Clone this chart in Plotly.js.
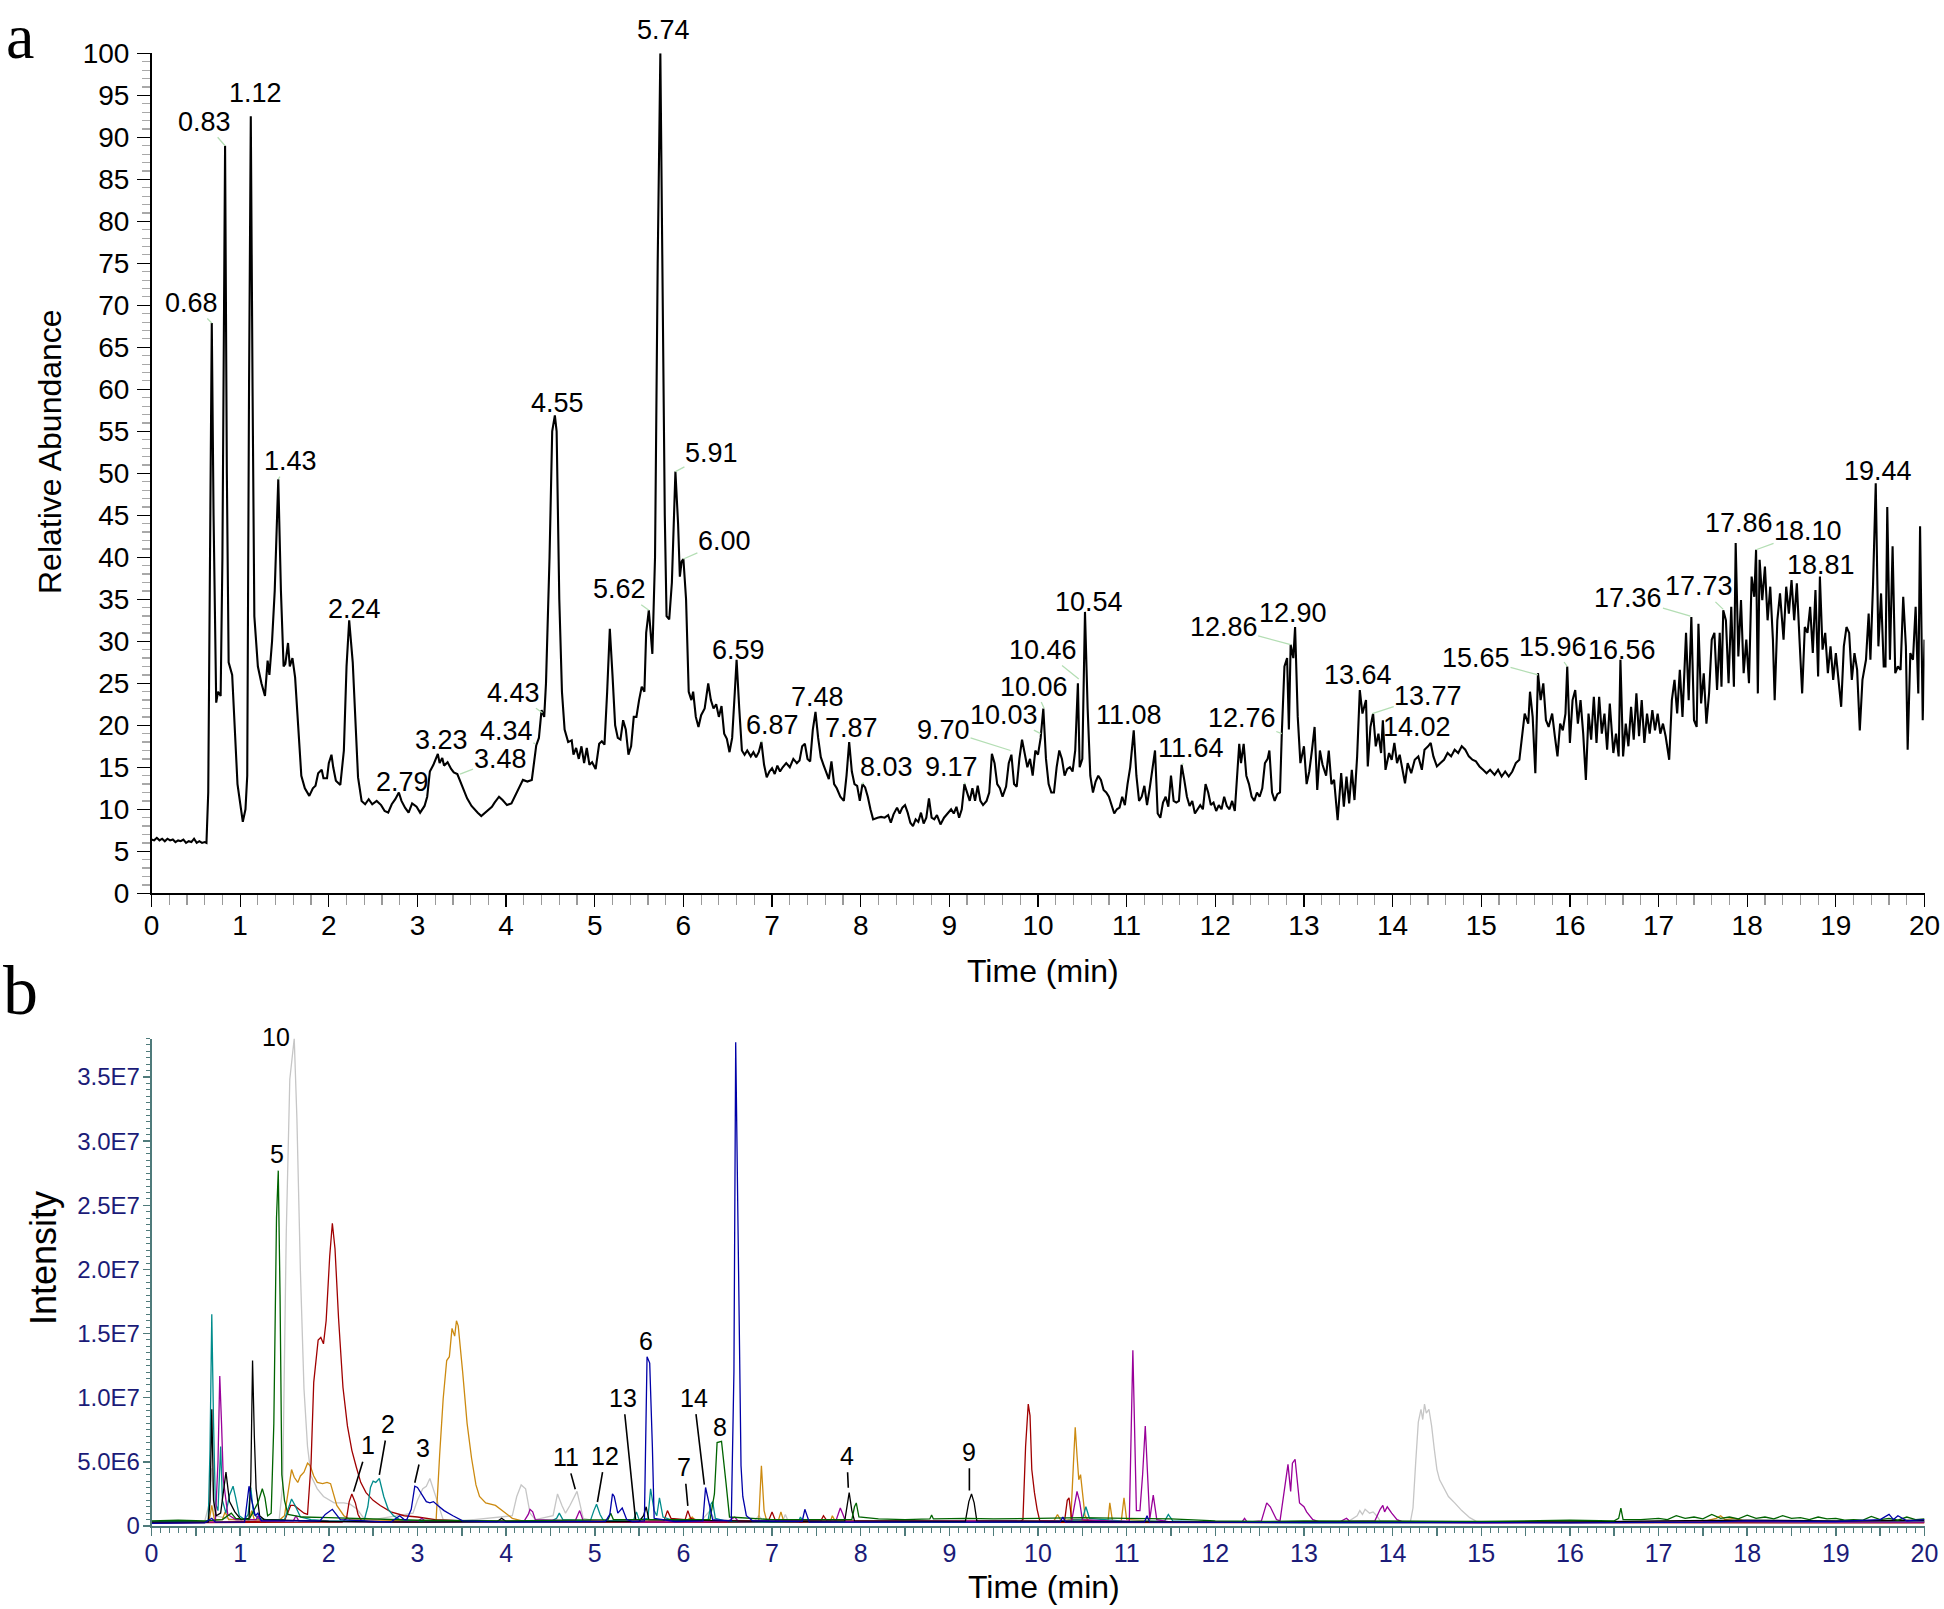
<!DOCTYPE html>
<html>
<head>
<meta charset="utf-8">
<script src="https://cdn.plot.ly/plotly-3.0.1.min.js"></script>
<style>html,body{margin:0;padding:0;background:#fff;}#chart{width:1944px;height:1609px;}</style>
</head>
<body>
<div id="chart"></div>
<script>
// ---------------- DATA ----------------
// Panel a: total ion chromatogram (time in min, relative abundance %)
const ticPoints = [
[0.00,6.4],[0.03,6.3],[0.06,6.6],[0.09,6.3],[0.12,6.5],[0.15,6.2],[0.18,6.5],[0.21,6.3],[0.24,6.4],[0.27,6.1],[0.30,6.3],[0.33,6.2],[0.36,6.4],[0.39,6.0],[0.42,6.2],[0.45,6.1],[0.48,6.5],[0.51,6.0],[0.54,6.2],[0.57,6.0],[0.60,6.1],[0.62,6.0],
[0.64,12],[0.66,40],[0.68,67.9],[0.70,45],[0.72,30],[0.73,22.7],[0.75,24],[0.78,23.5],[0.80,40],[0.82,85],[0.83,89],[0.85,50],[0.87,27.5],[0.91,26],[0.94,19],[0.97,13],[1.01,10],[1.03,8.5],[1.06,10],[1.08,14],[1.10,60],[1.12,92.5],[1.14,60],[1.16,33],[1.20,27],[1.24,25],[1.28,23.5],[1.31,27.7],[1.33,26],[1.36,30],[1.39,36],[1.43,49.3],[1.46,36],[1.49,27],[1.51,27.3],[1.54,29.8],[1.56,27],[1.59,28],[1.62,25.7],[1.65,20],[1.69,14],[1.73,12.5],[1.78,11.6],[1.82,12.5],[1.85,12.8],[1.88,14.3],[1.92,14.7],[1.94,13.7],[1.98,13.7],[2.00,15.5],[2.03,16.5],[2.05,15],[2.08,13.4],[2.13,12.9],[2.17,17],[2.20,27],[2.23,32.5],[2.27,27.5],[2.30,20],[2.33,13.8],[2.37,11],[2.41,10.6],[2.45,11.2],[2.49,10.6],[2.54,11],[2.59,10.5],[2.63,9.8],[2.67,9.6],[2.71,10.6],[2.75,11.2],[2.79,12],[2.82,11],[2.86,10.2],[2.90,9.6],[2.94,10.7],[2.99,10.3],[3.03,9.6],[3.08,10.4],[3.11,11.5],[3.14,14.5],[3.18,15.3],[3.23,16.6],[3.25,15.5],[3.28,16.1],[3.30,15.2],[3.34,15.6],[3.38,14.8],[3.41,14.4],[3.45,14.2],[3.50,12.8],[3.56,11.3],[3.61,10.4],[3.65,9.9],[3.68,9.6],[3.72,9.2],[3.76,9.6],[3.80,10],[3.84,10.3],[3.87,10.8],[3.92,11.5],[3.96,11.1],[4.01,10.5],[4.06,10.7],[4.10,11.6],[4.15,12.7],[4.19,13.5],[4.24,13.3],[4.29,13.5],[4.34,17.6],[4.37,18.5],[4.40,21.8],[4.43,21],[4.45,25],[4.49,40],[4.52,55],[4.55,56.9],[4.57,55],[4.60,35],[4.63,24],[4.66,19.5],[4.70,18],[4.74,18.2],[4.76,16.5],[4.79,17.3],[4.82,16],[4.85,17.5],[4.88,15.5],[4.91,17.3],[4.94,15.3],[4.97,15.6],[5.01,14.8],[5.05,17.8],[5.08,18.1],[5.11,17.7],[5.14,24],[5.17,31.5],[5.20,26],[5.23,20],[5.26,18.5],[5.29,18.3],[5.32,20.6],[5.35,19.5],[5.38,16.5],[5.41,17.5],[5.44,21],[5.47,21],[5.50,23],[5.53,24.6],[5.56,24],[5.58,31],[5.61,33.7],[5.65,28.5],[5.68,40],[5.71,75],[5.74,100],[5.76,75],[5.79,45],[5.81,33],[5.84,32.6],[5.87,37],[5.91,50.2],[5.94,44],[5.96,37.7],[5.98,39.5],[6.00,39.8],[6.03,35],[6.06,24],[6.09,23],[6.11,24],[6.14,21],[6.17,19.8],[6.20,21.2],[6.24,22],[6.28,25],[6.31,23],[6.34,22],[6.37,22.5],[6.40,21],[6.43,22.3],[6.46,19],[6.49,18.4],[6.52,16.8],[6.55,18.5],[6.58,24],[6.60,27.8],[6.63,22],[6.66,17],[6.69,16.5],[6.72,17],[6.76,16.3],[6.79,16.8],[6.82,16.2],[6.85,16.8],[6.88,18],[6.91,15.3],[6.94,13.8],[6.97,14.5],[7.00,14.9],[7.03,14.2],[7.06,15.2],[7.09,14.5],[7.12,15],[7.16,15.5],[7.20,15],[7.24,16],[7.28,15.5],[7.31,15.8],[7.34,17.5],[7.37,17.8],[7.40,16],[7.43,15.7],[7.46,19.5],[7.49,21.6],[7.52,18.5],[7.55,16.2],[7.58,15.3],[7.61,14.5],[7.64,13.6],[7.67,15.7],[7.70,13],[7.73,12.5],[7.77,11.5],[7.81,11],[7.84,14],[7.87,18],[7.90,14.5],[7.93,13],[7.96,12.8],[7.99,11],[8.02,13],[8.05,12.6],[8.08,11.5],[8.11,10],[8.14,8.8],[8.19,9],[8.23,9.1],[8.27,9],[8.31,9.3],[8.34,8.4],[8.37,9.4],[8.41,10.2],[8.44,9.5],[8.47,10.2],[8.50,10.5],[8.53,9.6],[8.56,8.4],[8.59,8],[8.62,8.8],[8.65,8.5],[8.68,9.6],[8.71,8.3],[8.74,9],[8.77,11.3],[8.80,9],[8.83,8.8],[8.86,9.3],[8.90,8.2],[8.94,9],[8.98,9.5],[9.02,10],[9.05,9.5],[9.08,10.3],[9.11,9],[9.14,10],[9.17,13],[9.20,12],[9.23,11],[9.26,12.5],[9.29,11],[9.32,12.8],[9.35,11],[9.38,10.5],[9.42,11],[9.45,12],[9.48,16.6],[9.51,15.5],[9.54,13],[9.57,12.5],[9.60,11.5],[9.64,12.7],[9.67,15.5],[9.70,16.5],[9.73,13],[9.76,12.7],[9.79,16],[9.82,18.3],[9.85,16.5],[9.88,15],[9.91,16],[9.94,14],[9.97,17],[10.00,16.5],[10.03,18.5],[10.06,22],[10.09,16],[10.12,13],[10.15,12],[10.18,12],[10.21,15],[10.24,17],[10.27,16],[10.30,14],[10.33,14.8],[10.36,15],[10.39,14.5],[10.42,17],[10.45,25],[10.47,15],[10.50,16],[10.53,33.5],[10.56,22],[10.59,14],[10.62,12],[10.65,13.3],[10.68,14],[10.71,13.5],[10.74,12.3],[10.77,12],[10.80,11.5],[10.83,10.5],[10.86,9.5],[10.89,10],[10.92,10.2],[10.95,11.5],[10.98,10.5],[11.01,13],[11.04,15],[11.08,19.4],[11.11,14],[11.14,11],[11.17,11.5],[11.20,12.8],[11.23,10.5],[11.26,12.5],[11.29,15],[11.32,17],[11.35,9.5],[11.38,9],[11.41,10.8],[11.44,11.5],[11.47,10.3],[11.50,14],[11.53,11],[11.56,10.8],[11.59,11],[11.62,15.3],[11.65,13.5],[11.68,11.5],[11.71,10.4],[11.74,11],[11.77,9.5],[11.80,10],[11.83,10.5],[11.86,10],[11.89,13],[11.92,12],[11.95,10.5],[11.98,10.8],[12.01,9.8],[12.04,10.5],[12.07,10],[12.10,11.5],[12.13,10.4],[12.16,10],[12.19,11],[12.22,9.8],[12.24,13],[12.27,17.8],[12.29,15.5],[12.32,17.8],[12.35,14],[12.38,13],[12.41,11.5],[12.44,11],[12.47,12],[12.50,11.5],[12.53,12.5],[12.56,15.5],[12.59,16],[12.61,17],[12.64,12],[12.67,11],[12.70,11.8],[12.73,12],[12.75,19],[12.78,27],[12.81,28],[12.83,19.5],[12.85,29.6],[12.88,28],[12.90,31.7],[12.93,21],[12.96,15.5],[13.00,17.5],[13.03,13],[13.06,14.5],[13.09,17],[13.12,19.8],[13.15,12.3],[13.18,17],[13.21,15.3],[13.25,14],[13.28,17],[13.31,13],[13.34,13.5],[13.38,8.7],[13.42,14.3],[13.45,10.3],[13.48,13.9],[13.51,10.7],[13.54,14.7],[13.57,11.1],[13.60,16.3],[13.63,24.2],[13.66,21.4],[13.70,23],[13.72,15.1],[13.75,19.8],[13.78,21.4],[13.81,17.5],[13.84,19],[13.87,16.7],[13.89,20.6],[13.92,14.7],[13.96,16.7],[13.99,15.9],[14.02,17.9],[14.05,15.5],[14.08,16.5],[14.11,14.7],[14.14,13.1],[14.17,15.5],[14.21,14.3],[14.25,15.9],[14.29,16.3],[14.33,14.7],[14.36,17.1],[14.40,17.5],[14.43,17.9],[14.46,16.3],[14.50,15.1],[14.54,15.5],[14.58,15.9],[14.62,16.7],[14.66,16.3],[14.70,17.1],[14.74,16.7],[14.78,17.5],[14.82,17.1],[14.86,16.3],[14.90,15.9],[14.94,15.7],[14.98,15.1],[15.02,14.7],[15.06,14.3],[15.10,14.7],[15.15,14.1],[15.19,14.7],[15.23,13.9],[15.27,14.5],[15.31,13.9],[15.35,14.5],[15.39,15.5],[15.43,15.9],[15.46,18.7],[15.49,21.4],[15.53,20.2],[15.55,24],[15.58,21],[15.61,14.3],[15.64,26.2],[15.67,23],[15.70,25],[15.73,20.6],[15.76,19.8],[15.80,21.4],[15.83,18.7],[15.86,16.3],[15.89,20.2],[15.92,19.4],[15.95,21.4],[15.97,27],[16.00,17.9],[16.03,23],[16.06,24.2],[16.09,20.2],[16.12,23],[16.15,19],[16.18,13.5],[16.21,21.4],[16.24,18.3],[16.27,23.4],[16.30,17.9],[16.33,23.4],[16.36,19],[16.39,21.4],[16.42,17.1],[16.45,22.6],[16.49,16.7],[16.52,19],[16.55,16.3],[16.57,27.8],[16.60,16.3],[16.63,20.2],[16.66,17.5],[16.69,22.2],[16.72,18.3],[16.75,23.8],[16.78,18.7],[16.81,23],[16.84,17.9],[16.87,21.4],[16.90,19],[16.93,21.8],[16.96,19.4],[16.99,21.4],[17.02,19],[17.05,20.2],[17.08,18.7],[17.12,15.9],[17.15,23],[17.18,25.4],[17.21,21.4],[17.24,26.6],[17.27,21],[17.31,31],[17.34,23],[17.37,32.9],[17.40,20.6],[17.43,19.8],[17.45,32.1],[17.48,22.6],[17.51,26.2],[17.54,20.2],[17.57,23.8],[17.60,30.2],[17.63,31],[17.66,24.2],[17.69,31],[17.71,24.6],[17.73,33.7],[17.76,32.5],[17.79,25],[17.82,34.1],[17.85,24.6],[17.87,41.7],[17.90,28.2],[17.93,34.9],[17.96,26.2],[17.99,30.2],[18.02,25],[18.05,37.7],[18.08,35.3],[18.10,40.9],[18.12,23.8],[18.14,39.7],[18.17,34.9],[18.20,38.9],[18.23,32.5],[18.26,36.5],[18.29,30.2],[18.31,23],[18.34,32.5],[18.37,35.7],[18.41,30.2],[18.44,36.5],[18.47,33.3],[18.50,37.3],[18.53,32.5],[18.56,36.9],[18.59,30.2],[18.62,23.8],[18.65,31.7],[18.68,31],[18.71,34.1],[18.74,28.6],[18.77,36.1],[18.80,25.8],[18.82,37.7],[18.85,29],[18.88,31],[18.91,26.2],[18.94,29.4],[18.97,25.4],[19.00,28.6],[19.03,25.4],[19.06,22.2],[19.09,29.4],[19.12,31.7],[19.15,31],[19.18,25.4],[19.21,28.6],[19.24,26.6],[19.27,19.4],[19.30,25.4],[19.34,27.8],[19.37,33.3],[19.39,27.8],[19.42,36.9],[19.45,48.8],[19.48,29.4],[19.51,35.7],[19.54,27],[19.56,27],[19.58,46],[19.61,27.8],[19.64,41.3],[19.67,26.2],[19.70,27],[19.73,26.6],[19.76,35.3],[19.79,29.4],[19.81,17.1],[19.84,28.6],[19.87,27.8],[19.90,34.1],[19.93,23.8],[19.95,43.7],[19.98,20.6],[20.00,30.2]
];

// Panel a peak labels (retention time shown, peak time, abundance at label point)
const peakLabels = ['0.68','0.83','1.12','1.43','2.24','2.79','3.23','3.48','4.34','4.43','4.55','5.62','5.74','5.91','6.00','6.59','6.87','7.48','7.87','8.03','9.17','9.70','10.03','10.06','10.46','10.54','11.08','11.64','12.76','12.86','12.90','13.64','13.77','14.02','15.65','15.96','16.56','17.36','17.73','17.86','18.10','18.81','19.44'];
const peakTimes  = [0.68,0.83,1.12,1.43,2.23,2.79,3.23,3.48,4.33,4.41,4.55,5.61,5.74,5.91,6.00,6.60,6.88,7.49,7.87,8.01,9.18,9.69,10.03,10.07,10.46,10.53,11.08,11.63,12.75,12.85,12.90,13.63,13.77,14.02,15.64,15.97,16.57,17.36,17.73,17.87,18.10,18.82,19.45];
const peakAbund  = [67.9,89,92.5,49.3,32.5,12,16.6,14.2,17.8,21.5,56.9,33.7,100,50.2,39.8,27.8,18,21.6,18,13,13,17,19,22,25.5,33.5,19.4,15.3,19,29.6,31.7,24.2,21.4,18,26,27,27.8,33,33.8,41.7,40.9,37.7,48.8];

// Panel b: extracted ion chromatograms (time in min, intensity in units of 1E6)
const tealPts = [[0,0.32],[0.3,0.36],[0.6,0.3],[0.64,0.35],[0.66,6.0],[0.68,16.5],[0.70,8.0],[0.72,1.8],[0.75,1.2],[0.78,6.2],[0.80,2.0],[0.84,1.0],[0.88,2.4],[0.92,3.1],[0.95,2.2],[0.99,0.8],[1.05,0.5],[1.09,0.9],[1.12,3.0],[1.15,1.0],[1.2,0.6],[1.3,0.5],[1.5,0.5],[1.55,1.6],[1.58,2.1],[1.62,1.6],[1.68,0.7],[1.8,0.5],[2.0,0.4],[2.2,0.4],[2.4,0.45],[2.44,1.5],[2.47,3.0],[2.5,3.5],[2.53,3.4],[2.57,3.7],[2.62,2.3],[2.67,1.3],[2.73,0.8],[2.8,0.5],[3.0,0.35],[3.5,0.3],[4.0,0.35],[4.5,0.35],[4.57,0.6],[4.6,1.0],[4.64,0.5],[4.95,0.4],[4.99,1.2],[5.02,1.7],[5.06,0.9],[5.1,0.4],[5.44,0.5],[5.47,1.1],[5.5,0.5],[5.6,0.6],[5.63,2.9],[5.67,1.2],[5.7,0.8],[5.73,2.2],[5.77,0.7],[5.9,0.4],[6.28,0.5],[6.31,1.7],[6.33,1.9],[6.36,0.6],[6.5,0.35],[7.0,0.3],[7.3,0.35],[7.32,0.7],[7.35,0.35],[8.0,0.3],[9.0,0.3],[10.0,0.3],[10.5,0.5],[10.54,1.5],[10.58,0.6],[11.0,0.35],[11.43,0.4],[11.47,0.9],[11.52,0.4],[12.0,0.3],[13.0,0.25],[14.0,0.25],[15.0,0.25],[16.0,0.25],[17.0,0.3],[18.0,0.35],[19.0,0.3],[20.0,0.35]];
const purplePts = [[0,0.25],[0.5,0.28],[0.72,0.3],[0.75,5.0],[0.77,11.7],[0.79,8.0],[0.81,3.6],[0.86,0.9],[0.95,0.5],[1.18,0.5],[1.2,0.8],[1.23,0.4],[1.6,0.4],[1.63,0.8],[1.66,0.4],[2.5,0.3],[3.0,0.35],[3.05,0.6],[3.1,0.3],[4.2,0.35],[4.25,0.9],[4.27,1.3],[4.3,1.1],[4.33,0.5],[4.78,0.4],[4.83,1.2],[4.87,0.4],[5.5,0.3],[6.5,0.35],[6.58,0.7],[6.62,0.35],[7.72,0.4],[7.77,1.4],[7.8,0.9],[7.83,0.35],[10.38,0.4],[10.42,1.8],[10.44,2.7],[10.47,1.9],[10.5,0.5],[10.9,0.35],[11.03,0.4],[11.07,13.7],[11.11,1.2],[11.15,1.2],[11.18,4.0],[11.21,7.8],[11.24,3.5],[11.26,0.5],[11.3,2.4],[11.34,0.5],[11.5,0.3],[12.3,0.3],[12.33,0.6],[12.36,0.3],[12.52,0.4],[12.58,1.8],[12.62,1.5],[12.69,0.5],[12.73,0.4],[12.79,3.6],[12.82,4.8],[12.85,2.7],[12.87,4.9],[12.9,5.2],[12.92,3.9],[12.95,1.8],[13.0,1.5],[13.03,1.1],[13.1,0.5],[13.18,0.3],[13.4,0.3],[13.48,0.6],[13.52,0.35],[13.8,0.4],[13.86,1.3],[13.89,1.6],[13.91,1.1],[13.94,1.5],[13.99,1.0],[14.05,0.5],[14.12,0.3],[15.0,0.25],[17.0,0.3],[18.0,0.35],[19.0,0.3],[20.0,0.3]];
const blackPts = [[0,0.3],[0.5,0.32],[0.64,0.3],[0.66,1.9],[0.68,9.1],[0.70,2.0],[0.73,0.8],[0.78,1.0],[0.81,2.8],[0.84,4.2],[0.88,1.9],[0.94,1.1],[1.01,0.5],[1.1,0.6],[1.12,3.5],[1.14,12.9],[1.16,7.0],[1.18,2.9],[1.22,0.8],[1.27,0.5],[2.0,0.35],[3.0,0.3],[3.9,0.35],[3.95,0.6],[4.0,0.35],[5.5,0.35],[5.55,0.8],[5.58,1.5],[5.61,0.5],[7.0,0.35],[7.82,0.4],[7.85,1.8],[7.87,2.6],[7.9,1.2],[7.93,0.4],[9.18,0.35],[9.22,1.9],[9.25,2.5],[9.28,1.8],[9.31,0.4],[12.0,0.3],[14.0,0.35],[16.0,0.3],[17.0,0.4],[18.0,0.45],[19.0,0.4],[20.0,0.45]];
const greenPts = [[0,0.4],[0.3,0.45],[0.6,0.4],[0.8,0.5],[0.9,1.0],[0.95,0.6],[1.1,0.5],[1.2,1.8],[1.25,2.9],[1.28,2.2],[1.31,0.8],[1.35,1.0],[1.38,8.0],[1.41,24.0],[1.43,27.7],[1.45,18.0],[1.47,4.0],[1.5,2.0],[1.54,0.9],[1.7,0.7],[2.0,0.65],[2.3,0.6],[2.6,0.5],[3.0,0.45],[4.0,0.4],[5.0,0.45],[5.15,0.5],[5.18,1.0],[5.21,0.5],[6.3,0.5],[6.35,2.5],[6.38,6.5],[6.43,6.6],[6.48,3.4],[6.52,0.7],[7.0,0.5],[7.9,0.5],[7.93,1.5],[7.95,1.8],[7.98,0.7],[8.2,0.55],[8.5,0.5],[8.78,0.55],[8.8,0.85],[8.82,0.55],[9.2,0.6],[9.5,0.55],[10.0,0.6],[10.5,0.65],[11.0,0.6],[11.5,0.55],[12.0,0.4],[12.5,0.35],[13.0,0.4],[14.0,0.4],[15.0,0.35],[16.0,0.45],[16.5,0.4],[16.55,0.6],[16.575,1.4],[16.6,0.5],[16.8,0.5],[17.0,0.6],[17.1,0.5],[17.2,0.8],[17.3,0.6],[17.4,0.7],[17.5,0.55],[17.6,0.9],[17.7,0.6],[17.8,0.7],[17.9,0.55],[18.0,0.85],[18.1,0.6],[18.2,0.7],[18.3,0.55],[18.4,0.8],[18.5,0.6],[18.6,0.65],[18.7,0.5],[18.8,0.7],[18.9,0.55],[19.0,0.6],[19.1,0.45],[19.2,0.5],[19.3,0.45],[19.4,0.75],[19.5,0.5],[19.6,0.6],[19.7,0.45],[19.8,0.7],[19.9,0.5],[20.0,0.55]];
const grayPts = [[0,0.35],[0.6,0.35],[0.66,2.0],[0.68,4.5],[0.71,0.8],[1.0,0.4],[1.44,0.5],[1.48,3.2],[1.52,22.8],[1.56,34.8],[1.61,38.0],[1.64,31.8],[1.68,19.8],[1.72,10.7],[1.76,6.2],[1.8,3.9],[1.87,2.9],[1.94,2.3],[2.06,1.8],[2.17,1.8],[2.24,1.7],[2.32,1.3],[2.39,0.65],[2.5,0.5],[2.95,1.0],[3.0,2.0],[3.06,2.9],[3.1,3.1],[3.14,3.7],[3.18,2.9],[3.23,1.8],[3.29,0.5],[3.5,0.4],[4.07,0.8],[4.12,2.3],[4.17,3.2],[4.22,2.9],[4.27,1.0],[4.33,0.5],[4.53,0.8],[4.58,2.5],[4.63,1.6],[4.67,1.0],[4.72,1.6],[4.8,2.7],[4.83,1.8],[4.87,0.6],[5.0,0.4],[6.2,0.4],[6.3,1.2],[6.35,0.5],[6.8,0.4],[6.85,0.8],[6.9,0.4],[7.12,0.4],[7.15,0.9],[7.18,0.4],[8.0,0.3],[10.0,0.3],[12.0,0.3],[13.5,0.35],[13.6,0.8],[13.63,1.2],[13.66,0.9],[13.69,1.3],[13.74,1.0],[13.78,1.1],[13.82,0.8],[13.86,0.4],[14.2,0.3],[14.23,1.4],[14.26,4.9],[14.29,8.1],[14.32,9.1],[14.34,8.3],[14.36,9.5],[14.38,8.8],[14.41,9.1],[14.44,7.8],[14.47,6.0],[14.5,4.4],[14.53,3.6],[14.57,3.1],[14.63,2.3],[14.7,1.8],[14.78,1.2],[14.87,0.65],[14.95,0.35],[16.0,0.3],[18.0,0.35],[20.0,0.3]];
const redPts = [[0,0.3],[0.6,0.3],[1.5,0.4],[1.57,1.6],[1.61,1.6],[1.65,1.4],[1.72,1.0],[1.76,0.9],[1.8,4.9],[1.83,11.2],[1.88,14.5],[1.91,14.7],[1.94,14.2],[1.97,16.0],[2.01,21.0],[2.04,23.6],[2.07,21.6],[2.11,16.2],[2.16,10.8],[2.21,7.8],[2.26,5.9],[2.31,4.6],[2.36,3.4],[2.42,2.6],[2.5,2.0],[2.58,1.6],[2.7,1.1],[2.85,0.8],[3.0,0.7],[3.2,0.5],[3.5,0.4],[5.0,0.35],[5.78,0.4],[5.82,1.2],[5.86,0.6],[6.02,0.5],[6.05,1.2],[6.08,0.6],[6.2,0.4],[6.96,0.4],[7.0,1.1],[7.04,0.4],[7.55,0.4],[7.58,0.8],[7.62,0.4],[9.8,0.35],[9.83,0.5],[9.86,6.2],[9.89,9.5],[9.91,8.6],[9.93,4.4],[9.96,2.6],[9.99,1.3],[10.02,0.4],[10.3,0.4],[10.33,2.0],[10.35,2.2],[10.38,0.5],[11.0,0.3],[14.0,0.3],[17.0,0.3],[20.0,0.35]];
const red2Pts = [[0,0.25],[2.15,0.3],[2.2,0.6],[2.23,1.9],[2.26,2.5],[2.3,1.8],[2.33,0.9],[2.37,0.4],[2.5,0.3],[20.0,0.25]];
const orangePts = [[0,0.25],[0.6,0.3],[0.65,0.4],[0.68,1.6],[0.71,0.5],[0.8,0.5],[0.83,1.1],[0.87,0.5],[1.1,0.5],[1.13,1.2],[1.16,0.5],[1.45,0.5],[1.5,0.8],[1.55,3.1],[1.58,4.4],[1.61,3.8],[1.65,3.4],[1.68,3.9],[1.72,4.2],[1.76,4.9],[1.79,4.7],[1.83,3.9],[1.87,3.4],[1.93,3.3],[1.98,3.4],[2.02,3.3],[2.05,2.6],[2.09,1.6],[2.17,0.8],[2.24,0.5],[3.0,0.4],[3.21,0.4],[3.25,5.5],[3.29,9.9],[3.33,12.9],[3.36,13.2],[3.39,15.4],[3.42,14.8],[3.44,16.0],[3.46,15.6],[3.51,12.0],[3.56,8.0],[3.61,5.3],[3.66,3.2],[3.7,2.3],[3.77,1.8],[3.88,1.6],[3.99,1.0],[4.07,0.6],[4.18,0.4],[5.0,0.35],[6.0,0.3],[6.1,0.7],[6.14,0.35],[6.85,0.4],[6.87,4.4],[6.88,4.7],[6.91,1.2],[6.94,0.4],[7.07,0.4],[7.1,1.1],[7.13,0.4],[7.66,0.4],[7.68,0.8],[7.71,0.4],[10.18,0.4],[10.22,0.9],[10.26,0.4],[10.37,0.5],[10.4,4.9],[10.42,7.7],[10.44,5.5],[10.46,3.6],[10.48,4.0],[10.5,2.6],[10.53,0.8],[10.57,0.4],[10.79,0.4],[10.81,1.8],[10.84,0.4],[10.94,0.4],[10.97,2.2],[11.0,0.5],[11.5,0.3],[14.0,0.3],[17.5,0.35],[17.65,0.6],[17.7,0.8],[17.75,0.5],[17.85,0.6],[18.0,0.35],[20.0,0.3]];
const navyPts = [[0,0.2],[0.6,0.25],[0.68,0.6],[0.72,0.3],[1.05,0.3],[1.1,3.1],[1.13,2.0],[1.17,0.8],[1.2,1.0],[1.24,0.4],[1.9,0.4],[1.96,0.9],[2.04,1.3],[2.09,0.8],[2.13,0.5],[2.7,0.3],[2.8,0.8],[2.85,0.5],[2.88,0.5],[2.93,1.3],[2.97,3.1],[3.0,3.0],[3.04,2.6],[3.1,1.9],[3.14,1.8],[3.18,1.9],[3.23,1.6],[3.3,1.2],[3.4,0.8],[3.51,0.4],[4.0,0.3],[5.12,0.35],[5.17,0.9],[5.2,2.5],[5.22,2.3],[5.26,1.0],[5.31,1.4],[5.36,0.5],[5.43,0.35],[5.56,0.4],[5.59,13.2],[5.62,12.7],[5.65,6.2],[5.67,0.6],[5.9,0.35],[6.22,0.4],[6.25,3.0],[6.29,1.8],[6.33,0.5],[6.54,0.4],[6.57,12.0],[6.59,37.7],[6.62,20.0],[6.65,4.7],[6.67,2.3],[6.71,0.8],[6.78,0.4],[7.34,0.35],[7.37,1.3],[7.42,0.3],[10.25,0.3],[10.28,0.7],[10.31,0.3],[11.2,0.3],[11.23,0.8],[11.26,0.3],[16.0,0.25],[17.5,0.3],[18.0,0.4],[19.0,0.35],[19.5,0.5],[19.6,0.9],[19.65,0.5],[19.7,0.8],[19.8,0.4],[20.0,0.5]];

// Panel b compound numbers (label, text time, text intensity, pointer time, pointer intensity; null = no pointer)
const cmpLabels = ['10','5','1','2','3','11','12','13','6','7','14','8','4','9'];
const cmpTextT  = [1.405,1.416,2.44,2.67,3.06,4.68,5.12,5.32,5.583,6.01,6.12,6.41,7.844,9.226];
const cmpTextI  = [38.1,29.0,6.3,7.95,6.08,5.39,5.48,10.0,14.43,4.58,10.0,7.74,5.48,5.78];
const cmpTipT   = [null,null,2.28,2.57,2.97,4.78,5.03,5.46,null,6.05,6.236,null,7.86,9.226];
const cmpTipI   = [null,null,2.68,3.98,3.37,2.86,1.87,0.51,null,1.57,3.22,null,2.98,2.77];

// Tick labels
const aTimeTicks = [0,1,2,3,4,5,6,7,8,9,10,11,12,13,14,15,16,17,18,19,20];
const aAbundTicks = [0,5,10,15,20,25,30,35,40,45,50,55,60,65,70,75,80,85,90,95,100];
const bIntTicks = [0,5,10,15,20,25,30,35];
const bIntText = ['0','5.0E6','1.0E7','1.5E7','2.0E7','2.5E7','3.0E7','3.5E7'];

// ---------------- LAYOUT ----------------
const W = 1944, H = 1609;
const PX = x => x / W;
const PY = y => 1 - y / H;
const FONT = 'Liberation Sans, Arial, Helvetica, sans-serif';
const NAVY = '#1b1b78';
const AXB = '#4f7b7b';
const B_YMAX = 38;

const traces = [];
traces.push({x: ticPoints.map(p=>p[0]), y: ticPoints.map(p=>p[1]), xaxis:'x', yaxis:'y', type:'scatter', mode:'lines', line:{color:'#000', width:2.1}, hoverinfo:'skip'});

const bSeries = [
  [grayPts,'#c6c6c6'],[orangePts,'#cc8a10'],[redPts,'#a00000'],[red2Pts,'#a00000'],
  [tealPts,'#008c8c'],[purplePts,'#990099'],[blackPts,'#000000'],[greenPts,'#006400'],[navyPts,'#0000a8']
];
bSeries.forEach(([pts,col])=>{
  traces.push({x: pts.map(p=>p[0]), y: pts.map(p=>p[1]), xaxis:'x2', yaxis:'y2', type:'scatter', mode:'lines', line:{color:col, width:1.3}, hoverinfo:'skip'});
});

// offsets of label text centre from the labelled point (pixels) and whether a leader line is drawn
const labelOffsets = [[-20,-20,1],[-21,-24,1],[5,-23,0],[12,-18,1],[5,-11,0],[4,-11,0],[4,-14,0],[40,-15,1],[-29,-13,1],[-29,-20,1],[3,-12,0],[-29,-21,1],[3,-23,0],[36,-19,1],[41,-18,1],[2,-10,0],[11,-17,1],[2,-15,0],[2,-14,0],[25,-17,1],[-14,-17,1],[-67,-21,1],[-37,-19,1],[-10,-22,1],[-36,-29,1],[4,-10,0],[-5,-15,0],[8,-17,1],[-40,-16,1],[-67,-18,1],[-2,-14,0],[-2,-15,0],[56,-18,1],[23,-15,1],[-62,-17,1],[-14,-20,1],[2,-10,0],[-62,-18,1],[-24,-23,1],[3,-20,0],[52,-19,1],[1,-12,0],[2,-12,0]];

const annotations = [];
peakLabels.forEach((lab,i)=>{
  const [dx,dy,ln] = labelOffsets[i];
  const base = {x: peakTimes[i], y: peakAbund[i], xref:'x', yref:'y', text: lab, font:{family:FONT, size:27, color:'#000'}, xanchor:'center', yanchor:'middle'};
  if (ln) {
    annotations.push(Object.assign(base, {showarrow:true, ax:dx, ay:dy, arrowhead:0, arrowwidth:1.3, arrowcolor:'#b4deb4', standoff:0, startstandoff:0, borderpad:0}));
  } else {
    annotations.push(Object.assign(base, {showarrow:false, xshift:dx, yshift:-dy}));
  }
});
cmpLabels.forEach((lab,i)=>{
  if (cmpTipT[i] === null) {
    // keep the anchor inside the axis range so the label is not hidden; shift to the label position in pixels
    const yIn = Math.min(cmpTextI[i], B_YMAX - 0.5);
    const shift = (cmpTextI[i] - yIn) * (1526 - 1038.5) / B_YMAX;
    annotations.push({x:cmpTextT[i], y:yIn, yshift:shift, xref:'x2', yref:'y2', text:lab, showarrow:false, font:{family:FONT, size:25, color:'#000'}, xanchor:'center', yanchor:'middle'});
  } else {
    annotations.push({x:cmpTipT[i], y:cmpTipI[i], xref:'x2', yref:'y2', ax:cmpTextT[i], ay:cmpTextI[i], axref:'x2', ayref:'y2', text:lab, showarrow:true, arrowhead:0, arrowwidth:1.6, arrowcolor:'#000', standoff:0, borderpad:2, font:{family:FONT, size:25, color:'#000'}});
  }
});
// axis titles and panel letters
annotations.push({xref:'paper', yref:'paper', x:PX(50), y:PY(452), text:'Relative Abundance', textangle:-90, showarrow:false, font:{family:FONT, size:32, color:'#000'}, xanchor:'center', yanchor:'middle'});
annotations.push({xref:'paper', yref:'paper', x:PX(1043), y:PY(971), text:'Time (min)', showarrow:false, font:{family:FONT, size:32, color:'#000'}, xanchor:'center', yanchor:'middle'});
annotations.push({xref:'paper', yref:'paper', x:PX(43), y:PY(1258), text:'Intensity', textangle:-90, showarrow:false, font:{family:FONT, size:36, color:'#000'}, xanchor:'center', yanchor:'middle'});
annotations.push({xref:'paper', yref:'paper', x:PX(1044), y:PY(1587), text:'Time (min)', showarrow:false, font:{family:FONT, size:32, color:'#000'}, xanchor:'center', yanchor:'middle'});
annotations.push({xref:'paper', yref:'paper', x:PX(20), y:1, text:'a', showarrow:false, font:{family:'Liberation Serif, Times New Roman, serif', size:64, color:'#000'}, xanchor:'center', yanchor:'top', borderpad:0});
annotations.push({xref:'paper', yref:'paper', x:PX(20), y:PY(990), text:'b', showarrow:false, font:{family:'Liberation Serif, Times New Roman, serif', size:70, color:'#000'}, xanchor:'center', yanchor:'middle'});

// panel b time ticks every 0.5 min, labelled on whole minutes
const bTickVals = [], bTickText = [];
aTimeTicks.forEach((t,i)=>{ bTickVals.push(t); bTickText.push(String(t)); if (i < aTimeTicks.length-1) { bTickVals.push(t+0.5); bTickText.push(''); } });

const layout = {
  width: W, height: H,
  margin: {l:0, r:0, t:0, b:0, pad:0},
  paper_bgcolor:'#fff', plot_bgcolor:'#fff',
  showlegend:false,
  xaxis: {domain:[PX(151.5), PX(1924.5)], range:[0,20], anchor:'y', showline:true, linecolor:'#000', linewidth:1.5,
    tickmode:'array', tickvals:aTimeTicks, ticktext:aTimeTicks.map(String), ticks:'outside', ticklen:12, tickwidth:1.3, tickcolor:'#000',
    minor:{dtick:0.2, tick0:0, ticks:'outside', ticklen:10, tickwidth:1.2, tickcolor:'#9a9a9a', showgrid:false},
    showgrid:false, zeroline:false, tickfont:{family:FONT, size:28, color:'#000'}, ticklabelstandoff:-5, fixedrange:true},
  yaxis: {domain:[PY(893.3), PY(53.3)], range:[0,100], anchor:'x', showline:true, linecolor:'#000', linewidth:1.5,
    tickmode:'array', tickvals:aAbundTicks, ticktext:aAbundTicks.map(String), ticks:'outside', ticklen:13, tickwidth:1.3, tickcolor:'#000',
    minor:{dtick:1, tick0:0, ticks:'outside', ticklen:8, tickwidth:1.2, tickcolor:'#a8a8a8', showgrid:false},
    showgrid:false, zeroline:false, tickfont:{family:FONT, size:28, color:'#000'}, ticklabelstandoff:2, fixedrange:true},
  xaxis2: {domain:[PX(151.5), PX(1924.5)], range:[0,20], anchor:'y2', showline:true, linecolor:AXB, linewidth:1.8,
    tickmode:'array', tickvals:bTickVals, ticktext:bTickText, ticks:'outside', ticklen:8, tickwidth:1.5, tickcolor:AXB,
    minor:{dtick:0.1, tick0:0, ticks:'outside', ticklen:5, tickwidth:1, tickcolor:AXB, showgrid:false},
    showgrid:false, zeroline:false, tickfont:{family:FONT, size:25, color:NAVY}, ticklabelstandoff:-4, fixedrange:true},
  yaxis2: {domain:[PY(1526), PY(1038.5)], range:[0,B_YMAX], anchor:'x2', showline:true, linecolor:AXB, linewidth:1.8,
    tickmode:'array', tickvals:bIntTicks, ticktext:bIntText, ticks:'outside', ticklen:7, tickwidth:1.5, tickcolor:AXB,
    minor:{dtick:0.5, tick0:0, ticks:'outside', ticklen:4, tickwidth:1, tickcolor:AXB, showgrid:false},
    showgrid:false, zeroline:false, tickfont:{family:FONT, size:24, color:NAVY}, ticklabelstandoff:-2, fixedrange:true},
  annotations: annotations
};

Plotly.newPlot('chart', traces, layout, {staticPlot:true, displayModeBar:false});
</script>
</body>
</html>
